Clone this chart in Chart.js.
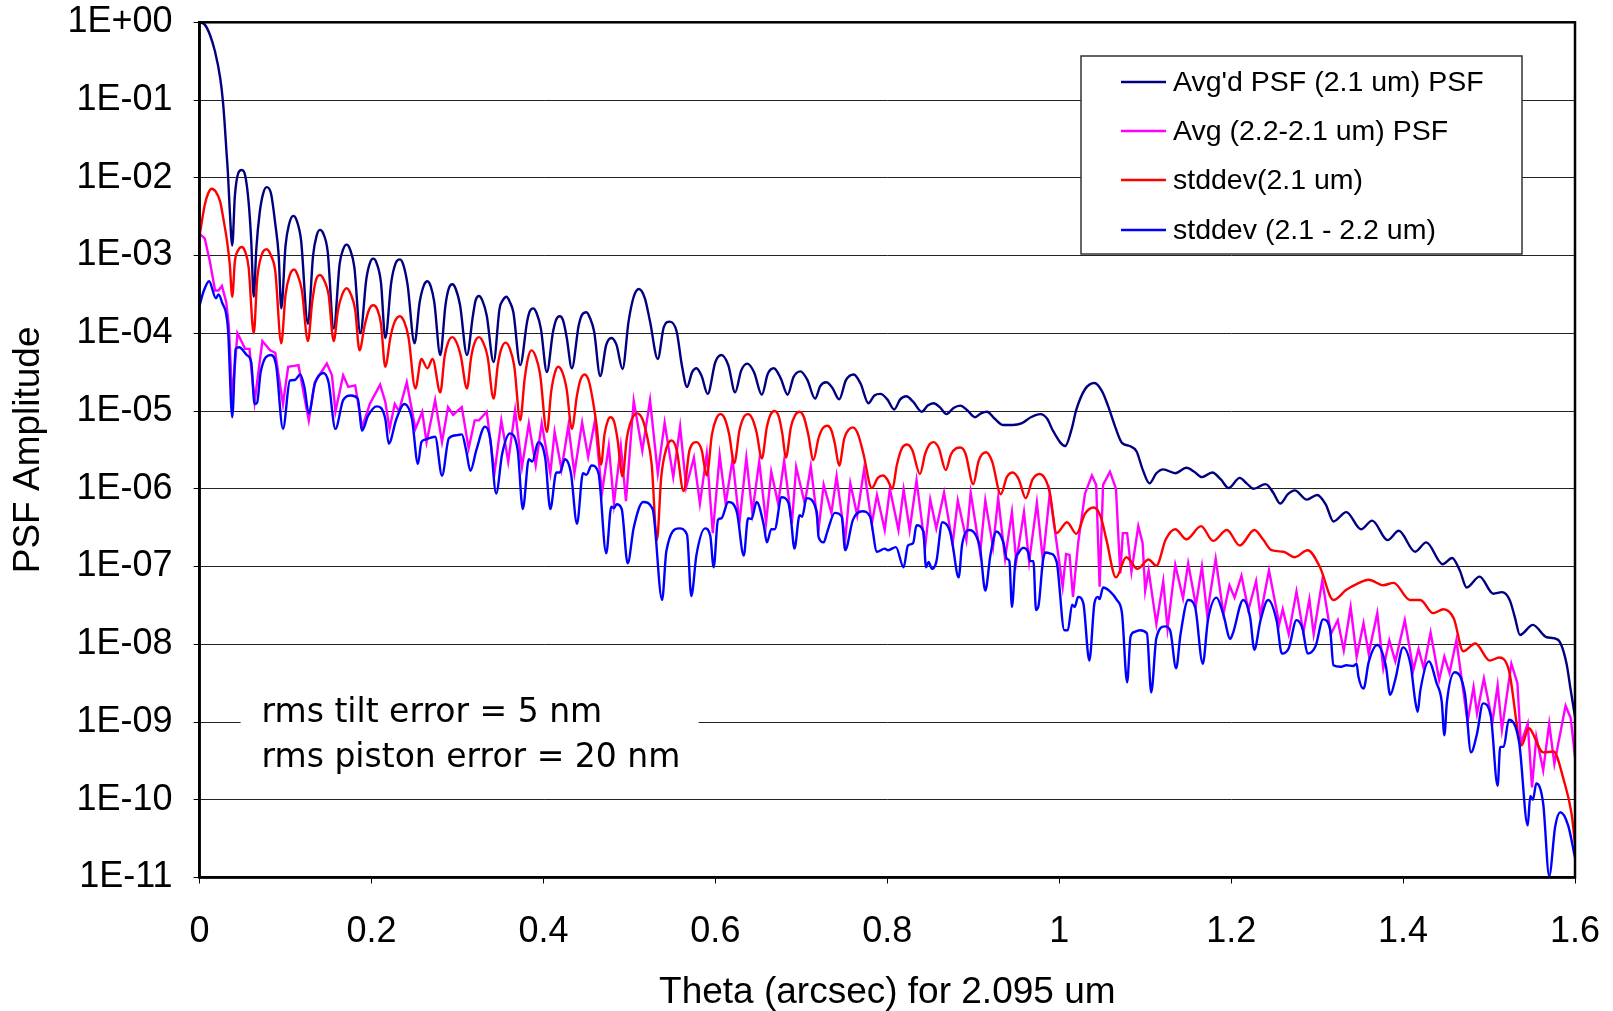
<!DOCTYPE html>
<html>
<head>
<meta charset="utf-8">
<script src="https://cdn.jsdelivr.net/npm/chart.js@4.4.1/dist/chart.umd.min.js"></script>
<style>
  html, body { margin: 0; padding: 0; background: #fff; }
  #wrap { width: 1613px; height: 1011px; position: relative; }
</style>
</head>
<body>
<div id="wrap"><canvas id="psfChart"></canvas></div>
<script>
// each point is [theta (arcsec), log10 of PSF amplitude]
var navyPsf = [
  [0,0],[0.006,-0.03],[0.012,-0.16],[0.018,-0.38],[0.024,-0.72],[0.027,-1.0],[0.029,-1.28],[0.031,-1.62],[0.033,-1.95],[0.035,-2.4],[0.038,-2.87],
  [0.041,-2.24],[0.045,-1.94],[0.049,-1.90],[0.053,-1.97],[0.057,-2.31],[0.060,-2.8],[0.063,-3.53],[0.066,-2.91],[0.070,-2.44],[0.074,-2.2],[0.078,-2.12],
  [0.083,-2.2],[0.088,-2.59],[0.092,-3.0],[0.095,-3.68],[0.100,-2.87],[0.104,-2.6],[0.109,-2.49],[0.113,-2.55],[0.118,-2.8],[0.126,-3.88],[0.132,-3.0],
  [0.136,-2.75],[0.140,-2.67],[0.144,-2.72],[0.149,-2.95],[0.156,-3.94],[0.163,-3.10],[0.167,-2.92],[0.171,-2.86],[0.175,-2.92],[0.180,-3.15],[0.187,-4.00],
  [0.194,-3.30],[0.198,-3.1],[0.202,-3.04],[0.206,-3.1],[0.211,-3.35],[0.216,-4.06],[0.223,-3.34],[0.228,-3.1],[0.233,-3.05],[0.237,-3.12],[0.242,-3.38],
  [0.250,-4.13],[0.256,-3.60],[0.261,-3.38],[0.265,-3.33],[0.269,-3.4],[0.273,-3.6],[0.280,-4.28],[0.286,-3.64],[0.290,-3.42],[0.294,-3.37],[0.298,-3.43],
  [0.303,-3.64],[0.311,-4.28],[0.318,-3.77],[0.321,-3.58],[0.325,-3.52],[0.329,-3.58],[0.334,-3.77],[0.342,-4.37],[0.349,-3.68],[0.353,-3.57],[0.357,-3.53],
  [0.361,-3.6],[0.365,-3.73],[0.373,-4.41],[0.381,-3.85],[0.384,-3.72],[0.388,-3.68],[0.392,-3.74],[0.397,-3.94],[0.404,-4.50],[0.411,-3.99],[0.415,-3.82],
  [0.419,-3.78],[0.423,-3.84],[0.427,-4.05],[0.433,-4.45],[0.441,-3.90],[0.445,-3.76],[0.450,-3.73],[0.454,-3.8],[0.459,-3.98],[0.466,-4.55],[0.473,-4.15],
  [0.479,-4.06],[0.485,-4.15],[0.492,-4.46],[0.499,-3.85],[0.505,-3.53],[0.511,-3.43],[0.518,-3.55],[0.524,-3.85],[0.533,-4.33],[0.540,-3.92],[0.547,-3.85],
  [0.555,-3.98],[0.561,-4.41],[0.567,-4.69],[0.573,-4.5],[0.578,-4.45],[0.584,-4.55],[0.591,-4.78],[0.600,-4.37],[0.607,-4.28],[0.615,-4.41],[0.623,-4.76],
  [0.630,-4.48],[0.637,-4.39],[0.645,-4.5],[0.654,-4.79],[0.661,-4.52],[0.668,-4.45],[0.676,-4.58],[0.684,-4.79],[0.691,-4.56],[0.699,-4.49],[0.707,-4.6],
  [0.716,-4.84],[0.722,-4.68],[0.729,-4.63],[0.736,-4.7],[0.744,-4.85],[0.752,-4.6],[0.761,-4.53],[0.769,-4.65],[0.778,-4.90],[0.785,-4.8],[0.792,-4.78],
  [0.800,-4.85],[0.808,-4.98],[0.815,-4.85],[0.822,-4.81],[0.830,-4.88],[0.840,-5.01],[0.847,-4.93],[0.854,-4.90],[0.861,-4.95],[0.869,-5.04],[0.877,-4.96],
  [0.885,-4.93],[0.893,-4.99],[0.902,-5.08],[0.909,-5.03],[0.916,-5.01],[0.925,-5.1],[0.935,-5.18],[0.946,-5.18],[0.956,-5.16],[0.967,-5.08],[0.978,-5.04],
  [0.986,-5.1],[0.993,-5.26],[1.007,-5.45],[1.014,-5.25],[1.020,-4.98],[1.030,-4.72],[1.041,-4.64],[1.050,-4.75],[1.057,-4.94],[1.065,-5.2],[1.073,-5.41],
  [1.082,-5.45],[1.090,-5.52],[1.097,-5.75],[1.105,-5.93],[1.113,-5.8],[1.121,-5.75],[1.135,-5.80],[1.148,-5.73],[1.157,-5.78],[1.166,-5.85],[1.178,-5.79],
  [1.188,-5.88],[1.197,-5.99],[1.210,-5.86],[1.218,-5.93],[1.226,-6.00],[1.240,-5.94],[1.249,-6.05],[1.257,-6.19],[1.266,-6.07],[1.274,-6.02],[1.288,-6.14],
  [1.300,-6.08],[1.310,-6.2],[1.319,-6.42],[1.334,-6.30],[1.351,-6.52],[1.364,-6.41],[1.382,-6.66],[1.395,-6.54],[1.414,-6.81],[1.427,-6.69],[1.446,-6.97],
  [1.457,-6.89],[1.466,-7.05],[1.474,-7.27],[1.489,-7.13],[1.505,-7.35],[1.515,-7.33],[1.524,-7.43],[1.530,-7.65],[1.536,-7.88],[1.551,-7.75],[1.567,-7.91],
  [1.580,-7.94],[1.590,-8.24],[1.595,-8.59],[1.600,-8.93]
];

var avgPsf = [
  [0,-2.72],[0.006,-2.78],[0.012,-3.08],[0.018,-3.45],[0.022,-3.45],[0.026,-3.39],[0.031,-3.60],[0.034,-3.9],[0.038,-4.84],[0.044,-4.00],[0.053,-4.20],
  [0.058,-4.2],[0.064,-4.88],[0.073,-4.10],[0.082,-4.22],[0.088,-4.25],[0.097,-4.91],[0.103,-4.43],[0.110,-4.42],[0.115,-4.41],[0.127,-5.12],[0.134,-4.63],
  [0.148,-4.39],[0.154,-4.54],[0.158,-5.01],[0.167,-4.54],[0.173,-4.69],[0.181,-4.67],[0.189,-5.21],[0.198,-4.91],[0.210,-4.66],[0.216,-4.88],[0.221,-5.23],
  [0.227,-4.91],[0.232,-5.00],[0.241,-4.63],[0.251,-5.23],[0.259,-5.01],[0.264,-5.40],[0.274,-4.86],[0.282,-5.40],[0.289,-4.95],[0.295,-5.05],[0.305,-4.95],
  [0.313,-5.48],[0.320,-5.12],[0.325,-5.12],[0.334,-5.01],[0.343,-5.80],[0.351,-5.12],[0.359,-5.65],[0.367,-4.99],[0.375,-5.72],[0.383,-5.16],[0.391,-5.70],
  [0.398,-5.16],[0.408,-5.80],[0.413,-5.27],[0.421,-5.75],[0.429,-5.19],[0.436,-5.80],[0.445,-5.15],[0.452,-5.59],[0.460,-5.12],[0.468,-6.06],[0.476,-5.45],
  [0.482,-6.19],[0.490,-5.45],[0.496,-6.16],[0.505,-4.87],[0.515,-5.51],[0.524,-4.86],[0.533,-5.80],[0.541,-5.15],[0.551,-5.85],[0.559,-5.20],[0.566,-5.98],
  [0.575,-5.60],[0.582,-6.19],[0.590,-5.55],[0.597,-6.57],[0.605,-5.57],[0.612,-6.19],[0.620,-5.62],[0.628,-6.44],[0.636,-5.60],[0.643,-6.31],[0.651,-5.65],
  [0.659,-6.44],[0.665,-5.78],[0.673,-6.19],[0.680,-5.64],[0.689,-6.45],[0.694,-5.72],[0.704,-6.19],[0.711,-5.71],[0.720,-6.53],[0.726,-5.95],[0.735,-6.31],
  [0.741,-5.84],[0.751,-6.66],[0.757,-5.93],[0.765,-6.34],[0.773,-5.75],[0.782,-6.45],[0.788,-6.08],[0.797,-6.53],[0.803,-6.00],[0.813,-6.53],[0.819,-6.01],
  [0.826,-6.53],[0.834,-5.89],[0.844,-6.75],[0.850,-6.14],[0.857,-6.51],[0.866,-6.05],[0.876,-6.71],[0.882,-6.15],[0.892,-6.66],[0.897,-6.05],[0.908,-6.83],
  [0.914,-6.15],[0.923,-6.75],[0.929,-6.12],[0.937,-6.90],[0.945,-6.30],[0.950,-6.94],[0.959,-6.30],[0.965,-6.94],[0.974,-6.18],[0.981,-6.92],[0.989,-6.06],
  [1.004,-7.26],[1.008,-6.84],[1.012,-6.85],[1.016,-7.39],[1.022,-6.70],[1.030,-6.06],[1.038,-5.83],[1.043,-5.95],[1.047,-7.26],[1.051,-5.95],[1.059,-5.78],
  [1.066,-6.0],[1.071,-7.09],[1.074,-6.57],[1.079,-6.57],[1.084,-7.07],[1.092,-6.48],[1.097,-6.7],[1.100,-7.31],[1.104,-7.05],[1.113,-7.74],[1.121,-7.19],
  [1.126,-7.80],[1.135,-6.98],[1.144,-7.41],[1.150,-6.96],[1.159,-7.50],[1.166,-7.00],[1.172,-7.61],[1.182,-6.90],[1.191,-7.61],[1.198,-7.24],[1.204,-7.4],
  [1.212,-7.12],[1.220,-7.56],[1.229,-7.19],[1.234,-7.63],[1.244,-7.05],[1.256,-7.74],[1.260,-7.55],[1.267,-7.87],[1.276,-7.32],[1.284,-7.85],[1.291,-7.42],
  [1.296,-7.87],[1.306,-7.18],[1.316,-7.87],[1.324,-7.69],[1.331,-8.08],[1.339,-7.52],[1.346,-8.16],[1.354,-7.73],[1.360,-8.12],[1.370,-7.60],[1.377,-8.31],
  [1.384,-7.95],[1.391,-8.22],[1.402,-7.69],[1.412,-8.33],[1.418,-8.06],[1.424,-8.31],[1.432,-7.85],[1.442,-8.46],[1.448,-8.16],[1.454,-8.37],[1.462,-7.95],
  [1.475,-9.00],[1.482,-8.55],[1.486,-8.89],[1.494,-8.44],[1.504,-9.00],[1.510,-8.53],[1.515,-9.10],[1.526,-8.25],[1.533,-8.5],[1.537,-9.28],[1.545,-9.02],
  [1.550,-9.84],[1.555,-9.19],[1.563,-9.62],[1.570,-9.02],[1.576,-9.54],[1.589,-8.79],[1.595,-8.95],[1.600,-9.45]
];

var stddev21 = [
  [0,-2.74],[0.006,-2.35],[0.010,-2.2],[0.014,-2.14],[0.019,-2.18],[0.024,-2.31],[0.028,-2.55],[0.032,-2.82],[0.035,-3.1],[0.038,-3.53],[0.041,-3.08],
  [0.045,-2.93],[0.049,-2.89],[0.053,-2.95],[0.057,-3.15],[0.063,-4.00],[0.067,-3.3],[0.072,-3.0],[0.078,-2.92],[0.083,-3.0],[0.088,-3.2],[0.095,-4.13],
  [0.100,-3.5],[0.105,-3.25],[0.110,-3.18],[0.114,-3.25],[0.119,-3.45],[0.126,-4.10],[0.131,-3.6],[0.135,-3.33],[0.140,-3.25],[0.145,-3.32],[0.150,-3.5],
  [0.156,-4.10],[0.161,-3.7],[0.166,-3.5],[0.171,-3.42],[0.176,-3.5],[0.181,-3.7],[0.186,-4.22],[0.192,-3.9],[0.197,-3.7],[0.202,-3.64],[0.207,-3.7],
  [0.211,-3.88],[0.216,-4.43],[0.222,-4.05],[0.227,-3.85],[0.233,-3.78],[0.238,-3.85],[0.243,-4.05],[0.251,-4.71],[0.258,-4.33],[0.265,-4.45],[0.271,-4.33],
  [0.280,-4.76],[0.285,-4.3],[0.289,-4.12],[0.294,-4.05],[0.299,-4.12],[0.304,-4.3],[0.311,-4.71],[0.316,-4.3],[0.320,-4.12],[0.325,-4.05],[0.330,-4.12],
  [0.335,-4.3],[0.342,-4.84],[0.347,-4.4],[0.351,-4.2],[0.356,-4.12],[0.361,-4.2],[0.366,-4.42],[0.373,-5.12],[0.378,-4.6],[0.382,-4.32],[0.386,-4.22],
  [0.391,-4.3],[0.396,-4.52],[0.404,-5.27],[0.409,-4.75],[0.413,-4.52],[0.417,-4.43],[0.422,-4.5],[0.427,-4.72],[0.433,-5.23],[0.439,-4.8],[0.443,-4.6],
  [0.448,-4.53],[0.453,-4.62],[0.458,-4.9],[0.462,-5.2],[0.467,-5.69],[0.471,-5.3],[0.475,-5.12],[0.478,-5.08],[0.482,-5.13],[0.486,-5.35],[0.492,-5.84],
  [0.497,-5.35],[0.503,-5.1],[0.509,-5.03],[0.515,-5.1],[0.520,-5.3],[0.526,-5.7],[0.532,-6.66],[0.537,-5.85],[0.543,-5.48],[0.549,-5.38],[0.555,-5.5],
  [0.563,-6.03],[0.570,-5.5],[0.578,-5.40],[0.584,-5.5],[0.590,-5.83],[0.596,-5.3],[0.601,-5.1],[0.606,-5.04],[0.611,-5.1],[0.616,-5.3],[0.622,-5.67],
  [0.628,-5.25],[0.633,-5.08],[0.638,-5.04],[0.643,-5.1],[0.648,-5.28],[0.654,-5.61],[0.660,-5.2],[0.664,-5.05],[0.669,-5.00],[0.674,-5.08],[0.678,-5.3],
  [0.682,-5.60],[0.688,-5.2],[0.693,-5.05],[0.698,-5.01],[0.703,-5.08],[0.708,-5.3],[0.714,-5.63],[0.720,-5.35],[0.725,-5.22],[0.730,-5.19],[0.735,-5.25],
  [0.739,-5.42],[0.744,-5.70],[0.750,-5.35],[0.755,-5.24],[0.760,-5.21],[0.766,-5.3],[0.772,-5.54],[0.782,-5.99],[0.789,-5.86],[0.795,-5.83],[0.800,-5.88],
  [0.806,-6.00],[0.811,-5.7],[0.817,-5.48],[0.823,-5.43],[0.829,-5.5],[0.838,-5.81],[0.844,-5.55],[0.849,-5.43],[0.854,-5.40],[0.860,-5.48],[0.868,-5.76],
  [0.874,-5.56],[0.880,-5.48],[0.885,-5.47],[0.891,-5.55],[0.900,-5.94],[0.906,-5.65],[0.910,-5.56],[0.915,-5.53],[0.922,-5.65],[0.932,-6.07],[0.939,-5.85],
  [0.946,-5.79],[0.953,-5.88],[0.961,-6.12],[0.969,-5.88],[0.977,-5.81],[0.984,-5.88],[0.989,-6.05],[0.997,-6.57],[1.009,-6.43],[1.020,-6.58],[1.030,-6.32],
  [1.040,-6.24],[1.048,-6.35],[1.055,-6.66],[1.066,-7.14],[1.078,-6.88],[1.091,-7.03],[1.104,-6.91],[1.113,-6.99],[1.124,-6.65],[1.135,-6.52],[1.148,-6.65],
  [1.165,-6.48],[1.179,-6.67],[1.195,-6.53],[1.210,-6.73],[1.227,-6.53],[1.237,-6.65],[1.247,-6.79],[1.261,-6.81],[1.274,-6.88],[1.289,-6.79],[1.303,-7.00],
  [1.319,-7.43],[1.334,-7.30],[1.347,-7.22],[1.360,-7.17],[1.377,-7.24],[1.389,-7.21],[1.408,-7.43],[1.420,-7.43],[1.435,-7.60],[1.447,-7.55],[1.459,-7.67],
  [1.470,-8.09],[1.484,-7.99],[1.501,-8.21],[1.512,-8.17],[1.523,-8.33],[1.538,-9.30],[1.546,-9.08],[1.563,-9.39],[1.575,-9.38],[1.587,-9.75],[1.596,-10.18],
  [1.600,-10.56]
];

var stddev2122 = [
  [0,-3.64],[0.005,-3.45],[0.011,-3.33],[0.019,-3.55],[0.022,-3.5],[0.026,-3.60],[0.033,-3.94],[0.038,-5.08],[0.042,-4.20],[0.046,-4.18],[0.055,-4.28],
  [0.060,-4.37],[0.064,-4.91],[0.067,-4.89],[0.071,-4.50],[0.083,-4.28],[0.089,-4.41],[0.097,-5.23],[0.105,-4.61],[0.111,-4.60],[0.117,-4.53],[0.122,-4.7],
  [0.127,-5.03],[0.134,-4.65],[0.144,-4.51],[0.150,-4.63],[0.158,-5.23],[0.167,-4.86],[0.176,-4.80],[0.184,-4.84],[0.189,-5.25],[0.196,-5.06],[0.206,-4.94],
  [0.216,-5.10],[0.220,-5.42],[0.229,-5.10],[0.238,-4.91],[0.247,-5.10],[0.254,-5.68],[0.258,-5.40],[0.262,-5.37],[0.274,-5.33],[0.282,-5.83],[0.290,-5.35],
  [0.300,-5.31],[0.305,-5.30],[0.310,-5.5],[0.315,-5.77],[0.322,-5.5],[0.332,-5.20],[0.338,-5.35],[0.345,-6.06],[0.352,-5.55],[0.361,-5.29],[0.370,-5.5],
  [0.376,-6.26],[0.383,-5.62],[0.387,-5.65],[0.394,-5.40],[0.402,-5.6],[0.408,-6.26],[0.415,-5.79],[0.419,-5.79],[0.425,-5.62],[0.432,-5.8],[0.439,-6.45],
  [0.446,-5.80],[0.450,-5.82],[0.456,-5.70],[0.464,-5.8],[0.473,-6.83],[0.479,-6.23],[0.482,-6.25],[0.485,-6.20],[0.491,-6.26],[0.498,-6.96],[0.505,-6.5],
  [0.516,-6.17],[0.527,-6.26],[0.538,-7.43],[0.543,-6.8],[0.558,-6.51],[0.567,-6.59],[0.572,-7.38],[0.578,-6.85],[0.588,-6.51],[0.594,-6.6],[0.598,-7.01],
  [0.603,-6.4],[0.607,-6.38],[0.615,-6.17],[0.625,-6.30],[0.633,-6.86],[0.638,-6.38],[0.642,-6.39],[0.648,-6.17],[0.656,-6.45],[0.660,-6.69],[0.665,-6.52],
  [0.669,-6.52],[0.677,-6.11],[0.685,-6.18],[0.688,-6.40],[0.692,-6.77],[0.698,-6.34],[0.701,-6.36],[0.706,-6.12],[0.718,-6.3],[0.720,-6.62],[0.726,-6.69],
  [0.730,-6.56],[0.739,-6.31],[0.747,-6.36],[0.751,-6.79],[0.760,-6.4],[0.771,-6.29],[0.780,-6.36],[0.788,-6.81],[0.797,-6.77],[0.801,-6.79],[0.810,-6.75],
  [0.819,-7.01],[0.824,-6.73],[0.830,-6.70],[0.834,-6.47],[0.842,-6.55],[0.845,-7.01],[0.848,-6.94],[0.852,-7.03],[0.857,-6.94],[0.864,-6.43],[0.873,-6.55],
  [0.876,-6.72],[0.883,-7.14],[0.887,-6.72],[0.896,-6.53],[0.904,-6.62],[0.908,-6.77],[0.914,-7.31],[0.920,-6.85],[0.927,-6.55],[0.935,-6.69],[0.939,-6.9],
  [0.942,-6.93],[0.945,-7.52],[0.949,-6.93],[0.953,-6.82],[0.958,-6.76],[0.964,-6.82],[0.966,-6.93],[0.970,-6.93],[0.973,-7.56],[0.976,-7.50],[0.981,-6.93],
  [0.984,-6.82],[0.989,-6.83],[0.997,-6.94],[1.006,-7.82],[1.010,-7.82],[1.015,-7.49],[1.018,-7.52],[1.022,-7.39],[1.028,-7.47],[1.035,-8.21],[1.041,-7.47],
  [1.045,-7.39],[1.047,-7.42],[1.051,-7.27],[1.059,-7.32],[1.067,-7.43],[1.073,-7.60],[1.079,-8.49],[1.083,-7.90],[1.088,-7.84],[1.094,-7.82],[1.102,-7.86],
  [1.107,-8.62],[1.113,-7.92],[1.123,-7.77],[1.129,-7.82],[1.136,-8.31],[1.141,-7.88],[1.150,-7.43],[1.158,-7.52],[1.167,-8.25],[1.173,-7.69],[1.183,-7.40],
  [1.191,-7.62],[1.199,-7.93],[1.202,-7.86],[1.214,-7.43],[1.222,-7.65],[1.227,-8.07],[1.234,-7.70],[1.243,-7.43],[1.253,-7.70],[1.259,-8.12],[1.267,-8.05],
  [1.276,-7.69],[1.283,-7.80],[1.289,-8.12],[1.298,-8.03],[1.307,-7.68],[1.315,-7.80],[1.319,-8.27],[1.327,-8.29],[1.334,-8.27],[1.342,-8.28],[1.346,-8.25],
  [1.348,-8.41],[1.354,-8.57],[1.360,-8.23],[1.370,-8.01],[1.380,-8.28],[1.385,-8.65],[1.391,-8.45],[1.400,-8.04],[1.409,-8.28],[1.414,-8.72],[1.417,-8.87],
  [1.420,-8.60],[1.430,-8.22],[1.439,-8.50],[1.445,-8.74],[1.448,-9.17],[1.451,-8.74],[1.460,-8.36],[1.472,-8.64],[1.479,-9.39],[1.486,-9.15],[1.493,-8.76],
  [1.502,-8.92],[1.510,-9.82],[1.513,-9.32],[1.517,-9.32],[1.523,-8.97],[1.535,-9.26],[1.545,-10.33],[1.548,-9.95],[1.551,-10.0],[1.555,-9.79],[1.563,-10.05],
  [1.570,-10.98],[1.577,-10.34],[1.583,-10.16],[1.592,-10.33],[1.600,-10.74]
];

var seriesLabels = ["Avg'd PSF (2.1 um) PSF", 'Avg (2.2-2.1 um) PSF', 'stddev(2.1 um)', 'stddev (2.1 - 2.2 um)'];
var yTickValues = [1e-11, 1e-10, 1e-9, 1e-8, 1e-7, 1e-6, 1e-5, 1e-4, 1e-3, 1e-2, 1e-1, 1];
var yTickLabels = ['1E-11', '1E-10', '1E-09', '1E-08', '1E-07', '1E-06', '1E-05', '1E-04', '1E-03', '1E-02', '1E-01', '1E+00'];
var xTickValues = [0, 0.2, 0.4, 0.6, 0.8, 1, 1.2, 1.4, 1.6];
var xTickLabels = ['0', '0.2', '0.4', '0.6', '0.8', '1', '1.2', '1.4', '1.6'];
var noteLines = ['rms tilt error = 5 nm', 'rms piston error = 20 nm'];

function toPoints(list) {
  return list.map(function (p) { return { x: p[0], y: Math.pow(10, p[1]) }; });
}

Chart.defaults.font.family = '"Liberation Sans", Arial, sans-serif';
Chart.defaults.color = '#000';

// white box with the two notes, drawn over the 1E-09 grid line
var notePlugin = {
  id: 'notes',
  beforeDatasetsDraw: function (chart) {
    var ctx = chart.ctx, a = chart.chartArea;
    ctx.save();
    ctx.fillStyle = '#fff';
    ctx.fillRect(a.left + 41, 678, 458, 100);
    ctx.fillStyle = '#000';
    ctx.font = '33px "DejaVu Sans"';
    ctx.textBaseline = 'alphabetic';
    ctx.fillText(noteLines[0], a.left + 62, 722);
    ctx.fillText(noteLines[1], a.left + 62, 767);
    ctx.restore();
  }
};

// plot frame plus the boxed legend in the top right
var framePlugin = {
  id: 'frame',
  afterDraw: function (chart) {
    var ctx = chart.ctx, a = chart.chartArea;
    ctx.save();
    ctx.strokeStyle = '#000';
    ctx.lineWidth = 2.5;
    ctx.strokeRect(a.left, a.top, a.right - a.left, a.bottom - a.top);

    var bx = 1081, by = 56, bw = 441, bh = 198;
    ctx.fillStyle = '#fff';
    ctx.fillRect(bx, by, bw, bh);
    ctx.lineWidth = 1.5;
    ctx.strokeStyle = '#333';
    ctx.strokeRect(bx, by, bw, bh);
    ctx.font = '28.5px "Liberation Sans"';
    ctx.textBaseline = 'middle';
    var rows = [82, 131, 180, 230];
    chart.data.datasets.forEach(function (ds, i) {
      ctx.strokeStyle = ds.borderColor;
      ctx.lineWidth = 2.5;
      ctx.beginPath();
      ctx.moveTo(1121, rows[i]);
      ctx.lineTo(1166, rows[i]);
      ctx.stroke();
      ctx.fillStyle = '#000';
      ctx.fillText(ds.label, 1173, rows[i] + 1);
    });
    ctx.restore();
  }
};

function series(label, list, color, order, curve) {
  return {
    label: label,
    data: toPoints(list),
    borderColor: color,
    backgroundColor: color,
    borderWidth: 2.4,
    pointRadius: 0,
    showLine: true,
    fill: false,
    order: order,
    cubicInterpolationMode: curve ? 'monotone' : 'default',
    tension: 0
  };
}

var ctx = document.getElementById('psfChart').getContext('2d');
var psfChart = new Chart(ctx, {
  type: 'scatter',
  data: {
    datasets: [
      series(seriesLabels[0], navyPsf, '#000080', 4, true),
      series(seriesLabels[1], avgPsf, '#ff00ff', 3, false),
      series(seriesLabels[2], stddev21, '#ff0000', 2, true),
      series(seriesLabels[3], stddev2122, '#0000ff', 1, true)
    ]
  },
  options: {
    responsive: true,
    maintainAspectRatio: false,
    animation: false,
    devicePixelRatio: 1,
    layout: { padding: { top: 22.3, right: 38, left: 0, bottom: 0 } },
    plugins: {
      legend: { display: false },
      tooltip: { enabled: false }
    },
    scales: {
      x: {
        type: 'linear',
        min: 0,
        max: 1.6,
        afterBuildTicks: function (axis) {
          axis.ticks = xTickValues.map(function (v) { return { value: v }; });
        },
        afterFit: function (scale) {
          scale.height = 133.5;
          scale.paddingLeft = 0;
          scale.paddingRight = 0;
        },
        ticks: {
          font: { size: 36 },
          padding: 27,
          maxRotation: 0,
          callback: function (v, i) { return xTickLabels[i]; }
        },
        grid: { drawOnChartArea: false, drawTicks: true, tickLength: 6, color: '#000' },
        border: { display: true, color: '#000', width: 2.5 },
        title: { display: true, text: 'Theta (arcsec) for 2.095 um', font: { size: 37 }, padding: { top: 0, bottom: -4 } }
      },
      y: {
        type: 'logarithmic',
        min: 1e-11,
        max: 1,
        afterBuildTicks: function (axis) {
          axis.ticks = yTickValues.map(function (v) { return { value: v }; });
        },
        afterFit: function (scale) {
          scale.width = 199.6;
          scale.paddingTop = 0;
          scale.paddingBottom = 0;
        },
        ticks: {
          font: { size: 36 },
          padding: 21,
          autoSkip: false,
          callback: function (v, i) { return yTickLabels[i]; }
        },
        grid: { color: '#222', lineWidth: 1, tickLength: 6, tickColor: '#000' },
        border: { display: true, color: '#000', width: 2.5 },
        title: { display: true, text: 'PSF Amplitude', font: { size: 37 }, padding: { top: 7, bottom: 0 } }
      }
    }
  },
  plugins: [notePlugin, framePlugin]
});
</script>
</body>
</html>
